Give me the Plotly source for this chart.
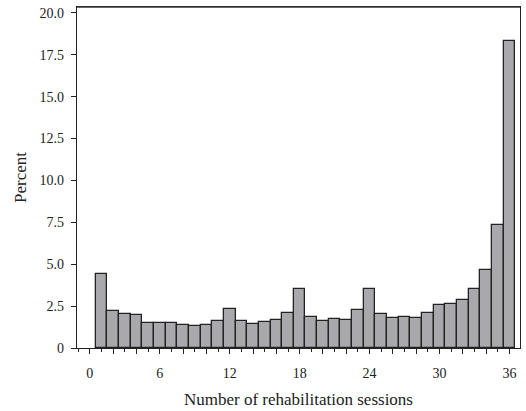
import plotly.graph_objects as go

sessions = list(range(1, 37))
percent = [4.40, 2.21, 2.01, 1.97, 1.50, 1.48, 1.50, 1.36, 1.30, 1.36,
           1.62, 2.33, 1.62, 1.46, 1.54, 1.66, 2.09, 3.53, 1.85, 1.64,
           1.72, 1.68, 2.25, 3.55, 2.03, 1.81, 1.85, 1.79, 2.07, 2.56,
           2.62, 2.84, 3.51, 4.65, 7.36, 18.3]

x_tickvals = list(range(0, 37, 2))
x_ticktext = [str(v) if v % 6 == 0 else "" for v in x_tickvals]
y_tickvals = [0, 2.5, 5, 7.5, 10, 12.5, 15, 17.5, 20]
y_ticktext = ["0", "2.5", "5.0", "7.5", "10.0", "12.5", "15.0", "17.5", "20.0"]

font = dict(family="Liberation Serif, Times New Roman, serif", size=14, color="#222")

fig = go.Figure(go.Bar(
    x=sessions, y=percent, width=1,
    marker=dict(color="#a9a9ad", line=dict(color="#222222", width=1.3)),
    cliponaxis=False,
))

fig.update_layout(
    width=526, height=411,
    margin=dict(l=77, r=5, t=7, b=60),
    paper_bgcolor="white", plot_bgcolor="white",
    font=font, showlegend=False, bargap=0,
    shapes=[dict(type="line", xref="paper", yref="paper", x0=0, x1=1, y0=1, y1=1,
                 line=dict(color="#333", width=1.6), layer="above")],
)
fig.update_xaxes(
    range=[-1.1, 36.9], tickvals=x_tickvals, ticktext=x_ticktext,
    ticks="outside", ticklen=5, tickwidth=1.2, tickcolor="#222",
    minor=dict(dtick=1, tick0=0, ticks="outside", ticklen=3, tickwidth=1.2, tickcolor="#222"),
    showline=True, linecolor="#222", linewidth=1.3, mirror=True,
    showgrid=False, zeroline=False,
    title=dict(text="Number of rehabilitation sessions", standoff=13),
    ticklabelstandoff=7, ticklabeloverflow="allow",
)
fig.update_yaxes(
    range=[0, 20.35], tickvals=y_tickvals, ticktext=y_ticktext,
    ticks="outside", ticklen=5, tickwidth=1.2, tickcolor="#222",
    showline=True, linecolor="#222", linewidth=1.3, mirror=True,
    showgrid=False, zeroline=False,
    title=dict(text="Percent", standoff=8),
    ticklabelstandoff=4, ticklabeloverflow="allow",
)

fig.write_html("out.html", config={"displayModeBar": False},
               post_script="document.body.style.margin='0';document.documentElement.style.overflow='hidden';")
